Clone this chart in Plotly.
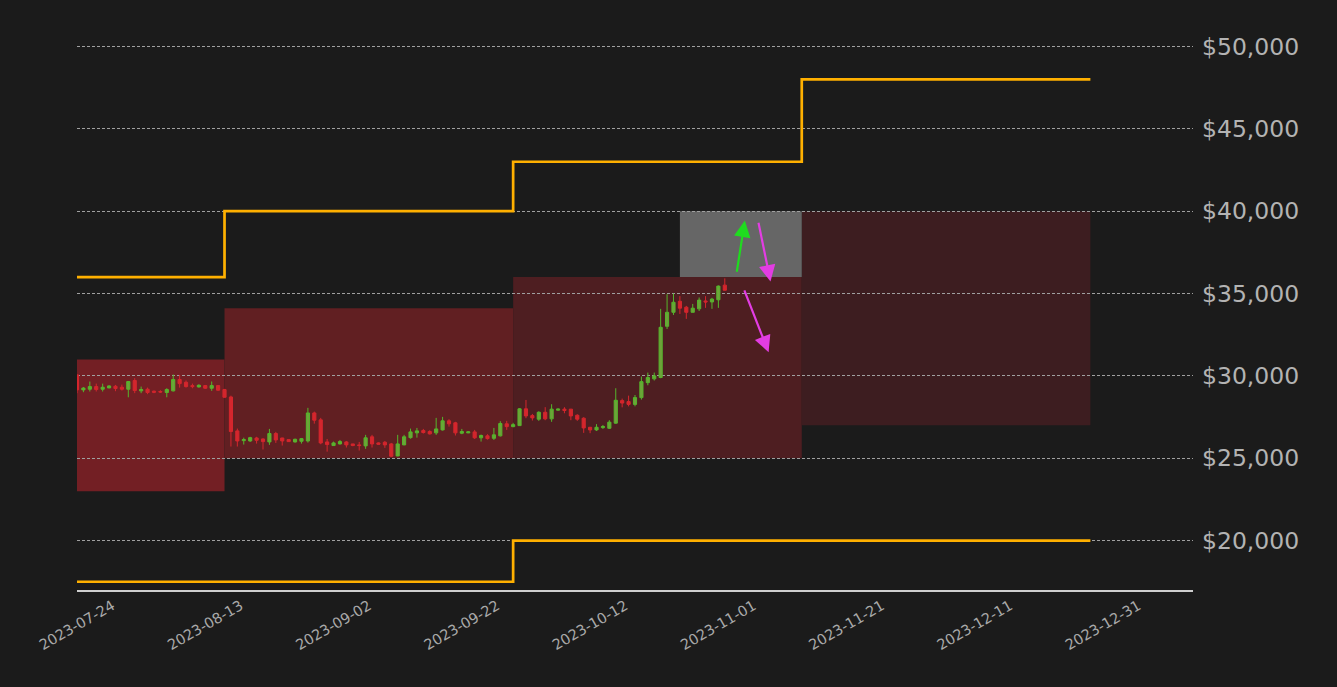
import pandas as pd
import plotly.graph_objects as go

# ---------------- data ----------------
first_day = "2023-07-24"
last_day = "2023-11-02"

opens = [30060, 29150, 29190, 29350, 29190, 29270, 29370, 29310, 29190, 29720,
         29090, 29190, 29070, 29050, 28990, 29090, 29780, 29610, 29410, 29330,
         29410, 29250, 29410, 29170, 28720, 26660, 26070, 26050, 26230, 26170,
         25990, 26500, 26230, 26130, 25990, 26030, 26050, 27750, 27330, 25990,
         25770, 25870, 25990, 25870, 25810, 25750, 26300, 25930, 25970, 25870,
         25140, 25810, 26250, 26540, 26680, 26620, 26540, 26720, 27270, 27150,
         26520, 26540, 26600, 26240, 26360, 26210, 26360, 27090, 26920, 26980,
         28000, 27590, 27370, 27790, 27390, 27920, 27980, 27980, 27610, 27430,
         26880, 26720, 26860, 26820, 27130, 28500, 28440, 28270, 28680, 29590,
         29820, 29900, 33010, 33860, 34530, 34170, 33860, 34070, 34550, 34490,
         34620, 35510]
highs = [30100, 29320, 29656, 29530, 29530, 29430, 29450, 29470, 29660, 29860,
         29350, 29290, 29110, 29130, 29250, 30080, 30060, 29720, 29530, 29490,
         29450, 29660, 29420, 29210, 28800, 26800, 26250, 26300, 26300, 26210,
         26780, 26600, 26240, 26150, 26190, 26230, 28060, 27830, 27450, 26170,
         26010, 26110, 26050, 25870, 25990, 26420, 26420, 25960, 26050, 25930,
         26420, 26420, 26800, 26840, 26780, 26700, 27450, 27510, 27370, 27210,
         26780, 26640, 26720, 26440, 26460, 26840, 27250, 27270, 27150, 28040,
         28540, 27690, 27850, 28100, 28280, 28020, 28100, 27990, 27670, 27490,
         26900, 27070, 27020, 27310, 29250, 28620, 28800, 28840, 29960, 30200,
         30200, 34070, 34960, 35000, 34840, 34250, 34370, 34760, 34840, 34740,
         35490, 35920]
lows = [28950, 29010, 29050, 29050, 29050, 29250, 29070, 29110, 28700, 28950,
        28950, 28890, 28950, 28960, 28700, 29050, 29290, 29290, 29250, 29290,
        29210, 29090, 29090, 28680, 25710, 25710, 25830, 25990, 25890, 25530,
        25810, 25930, 25770, 25990, 25950, 25890, 25950, 27100, 25850, 25400,
        25770, 25830, 25650, 25730, 25470, 25570, 25650, 25830, 25630, 25080,
        25120, 25790, 26190, 26250, 26500, 26440, 26420, 26680, 26920, 26380,
        26460, 26520, 26170, 26010, 26130, 26110, 26320, 26720, 26880, 26960,
        27430, 27290, 27270, 27310, 27210, 27890, 27730, 27310, 27270, 26540,
        26520, 26660, 26780, 26780, 27090, 28090, 28150, 28150, 28560, 29430,
        29720, 29860, 32850, 33700, 33760, 33460, 33860, 33940, 34130, 34070,
        34130, 35200]
closes = [29150, 29260, 29350, 29170, 29310, 29390, 29230, 29190, 29660, 29110,
          29170, 28990, 29010, 29020, 29170, 29780, 29530, 29350, 29350, 29430,
          29250, 29410, 29130, 28700, 26620, 26050, 26130, 26250, 26090, 26010,
          26500, 26110, 26050, 26010, 26150, 26190, 27750, 27310, 25930, 25830,
          25930, 26010, 25810, 25770, 25770, 26240, 25870, 25850, 25810, 25120,
          25870, 26300, 26600, 26660, 26560, 26480, 26780, 27270, 27090, 26540,
          26620, 26600, 26240, 26380, 26190, 26420, 27110, 26920, 27040, 28000,
          27570, 27450, 27790, 27390, 27980, 27980, 27900, 27570, 27370, 26840,
          26720, 26880, 26920, 27190, 28520, 28350, 28270, 28680, 29650, 29900,
          30000, 32950, 33860, 34470, 34110, 33860, 34110, 34600, 34490, 34660,
          35450, 35200]

# range boxes (45-day periods)
box_start = ["2023-07-24", "2023-08-16", "2023-09-30", "2023-11-14"]
box_end = ["2023-08-16", "2023-09-30", "2023-11-14", "2023-12-29"]
box_low = [23000, 25000, 25000, 27000]
box_high = [31000, 34100, 36000, 40000]
box_colors = ["#731f24", "#611f22", "#4e1e21", "#3d1d20"]

# highlighted zone
zone_start, zone_end = "2023-10-26", "2023-11-14"
zone_low, zone_high = 36000, 40000

# upper / lower bound step lines
upper_x = ["2023-07-24", "2023-08-16", "2023-09-30", "2023-11-14", "2023-12-29"]
upper_y = [36000, 40000, 43000, 48000, 48000]
lower_x = ["2023-07-24", "2023-09-30", "2023-12-29"]
lower_y = [17500, 20000, 20000]

# arrows
arrow_tail_x = ["2023-11-03 20:00", "2023-11-07 05:00", "2023-11-04 23:00"]
arrow_tail_y = [36230, 39390, 35285]
arrow_head_x = ["2023-11-05 03:00", "2023-11-09 03:00", "2023-11-08 20:00"]
arrow_head_y = [39430, 35730, 31435]
arrow_colors = ["#1fdc1f", "#e33de3", "#e33de3"]

tick_labels = ["2023-07-24", "2023-08-13", "2023-09-02", "2023-09-22", "2023-10-12",
               "2023-11-01", "2023-11-21", "2023-12-11", "2023-12-31"]
y_ticks = [20000, 25000, 30000, 35000, 40000, 45000, 50000]
y_tick_text = ["$20,000", "$25,000", "$30,000", "$35,000", "$40,000", "$45,000", "$50,000"]

x_range = ["2023-07-24", "2024-01-14"]
y_range = [17000, 51000]

# ---------------- figure ----------------
dates = pd.date_range(first_day, last_day, freq="D")
BG = "#1b1b1b"

fig = go.Figure()

fig.add_trace(go.Candlestick(
    x=dates, open=opens, high=highs, low=lows, close=closes,
    increasing=dict(fillcolor="#6fa23a", line=dict(color="#55b52c", width=1)),
    decreasing=dict(fillcolor="#d4262d", line=dict(color="#d4262d", width=1)),
    showlegend=False, hoverinfo="skip",
))

fig.add_trace(go.Scatter(x=upper_x, y=upper_y, mode="lines", line_shape="hv",
                         line=dict(color="#ffb000", width=2.7), showlegend=False))
fig.add_trace(go.Scatter(x=lower_x, y=lower_y, mode="lines", line_shape="hv",
                         line=dict(color="#ffb000", width=2.7), showlegend=False))

for x0, x1, lo, hi, c in zip(box_start, box_end, box_low, box_high, box_colors):
    fig.add_shape(type="rect", xref="x", yref="y", x0=x0, x1=x1, y0=lo, y1=hi,
                  fillcolor=c, line=dict(width=0), layer="below")
fig.add_shape(type="rect", xref="x", yref="y", x0=zone_start, x1=zone_end,
              y0=zone_low, y1=zone_high, fillcolor="#666666",
              line=dict(width=0), layer="below")

for tx, ty, hx, hy, c in zip(arrow_tail_x, arrow_tail_y, arrow_head_x, arrow_head_y, arrow_colors):
    fig.add_annotation(x=hx, y=hy, ax=tx, ay=ty, xref="x", yref="y", axref="x", ayref="y",
                       text="", showarrow=True, arrowhead=2, arrowsize=1.5,
                       arrowwidth=2.2, arrowcolor=c, standoff=0, startstandoff=0)

# labels centred under their dates (plotly anchors angled labels at their end)
label_shift = pd.Timedelta(hours=132)
tick_vals = [pd.Timestamp(t) + label_shift for t in tick_labels]

fig.update_layout(
    width=1337, height=687,
    paper_bgcolor=BG, plot_bgcolor=BG,
    margin=dict(l=77, r=144, t=30, b=97),
    boxgap=0.3,
    xaxis=dict(type="date", range=x_range, rangeslider=dict(visible=False),
               showgrid=False, zeroline=False, showline=True, linecolor="#cfcfcf",
               linewidth=2, ticks="", tickvals=tick_vals, ticktext=tick_labels,
               tickangle=-30, tickfont=dict(family="DejaVu Sans", size=14.5, color="#a9a9a9")),
    yaxis=dict(range=y_range, side="right", tickvals=y_ticks, ticktext=y_tick_text,
               showgrid=True, gridcolor="#a0a0a0", gridwidth=0.7,
               griddash="3px,2px", zeroline=False, showline=False, ticks="",
               ticklabelstandoff=8,
               tickfont=dict(family="DejaVu Sans", size=23.5, color="#b3b3b3")),
    hovermode=False,
)

fig.write_html(
    "out.html",
    config={"displayModeBar": False},
    post_script="document.body.style.margin='0';document.body.style.overflow='hidden';"
                "document.body.style.background='#1b1b1b';",
)
